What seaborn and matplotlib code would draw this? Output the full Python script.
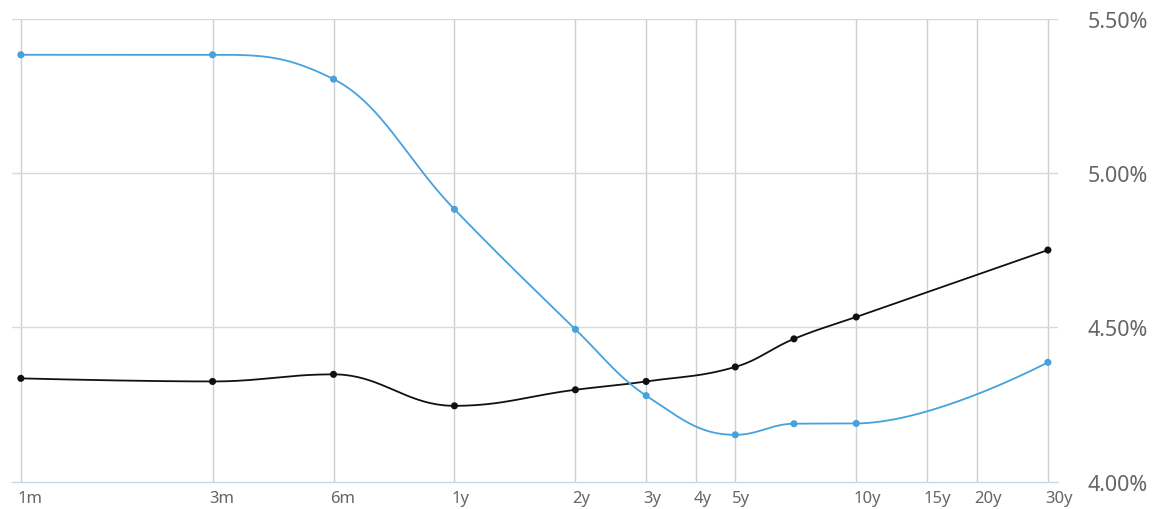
import numpy as np
import pandas as pd
import matplotlib
matplotlib.use("Agg")
import matplotlib.pyplot as plt
import seaborn as sns

# Maturities in years (1m, 3m, 6m, 1y, 2y, 3y, 5y, 7y, 10y, 30y)
maturity = [1 / 12, 0.25, 0.5, 1, 2, 3, 5, 7, 10, 30]
yield_blue = [5.384, 5.384, 5.305, 4.883, 4.494, 4.279, 4.152, 4.188, 4.189, 4.387]
yield_black = [4.335, 4.325, 4.348, 4.246, 4.298, 4.325, 4.372, 4.463, 4.534, 4.751]

tick_pos = [1 / 12, 0.25, 0.5, 1, 2, 3, 4, 5, 10, 15, 20, 30]
tick_labels = ["1m", "3m", "6m", "1y", "2y", "3y", "4y", "5y", "10y", "15y", "20y", "30y"]
y_ticks = [4.0, 4.5, 5.0, 5.5]
y_tick_labels = ["4.00%", "4.50%", "5.00%", "5.50%"]

BLUE = "#45a2dd"
BLACK = "#111111"
TEXT = "#666666"


def spline_curve(xs, ys, n=40):
    """Smooth spline through the points (bezier segments, smoothing 1.5),
    computed in log10(x) / y space so it follows the log axis."""
    u = np.log10(np.asarray(xs, float))
    v = np.asarray(ys, float)
    s = 1.5
    d = s + 1
    right = [None] * len(u)
    left = [None] * len(u)
    for i in range(1, len(u) - 1):
        px, py = u[i], v[i]
        lx, ly = u[i - 1], v[i - 1]
        nx, ny = u[i + 1], v[i + 1]
        lcx = (s * px + lx) / d
        lcy = (s * py + ly) / d
        rcx = (s * px + nx) / d
        rcy = (s * py + ny) / d
        corr = 0.0
        if rcx != lcx:
            corr = (rcy - lcy) * (rcx - px) / (rcx - lcx) + py - rcy
        lcy += corr
        rcy += corr
        if lcy > ly and lcy > py:
            lcy = max(ly, py)
            rcy = 2 * py - lcy
        elif lcy < ly and lcy < py:
            lcy = min(ly, py)
            rcy = 2 * py - lcy
        if rcy > ny and rcy > py:
            rcy = max(ny, py)
            lcy = 2 * py - rcy
        elif rcy < ny and rcy < py:
            rcy = min(ny, py)
            lcy = 2 * py - rcy
        left[i] = (lcx, lcy)
        right[i] = (rcx, rcy)
    cu, cv = [u[0]], [v[0]]
    t = np.linspace(0, 1, n)[1:]
    for i in range(1, len(u)):
        p0 = np.array([u[i - 1], v[i - 1]])
        p1 = np.array(right[i - 1]) if right[i - 1] is not None else p0
        p3 = np.array([u[i], v[i]])
        p2 = np.array(left[i]) if left[i] is not None else p3
        b = ((1 - t) ** 3)[:, None] * p0 + (3 * (1 - t) ** 2 * t)[:, None] * p1 \
            + (3 * (1 - t) * t ** 2)[:, None] * p2 + (t ** 3)[:, None] * p3
        cu.extend(b[:, 0])
        cv.extend(b[:, 1])
    return 10 ** np.array(cu), np.array(cv)


sns.set_theme(style="white")
plt.rcParams["font.family"] = ["Noto Sans", "DejaVu Sans"]

fig = plt.figure(figsize=(11.56, 5.10), dpi=100)
ax = fig.add_axes([12 / 1156, 27.3 / 510, 1046 / 1156, 462.7 / 510])

ax.set_xscale("log")
ax.set_xlim(0.0792, 31.79)
ax.set_ylim(4.0, 5.5)

# grid
for x in tick_pos:
    ax.axvline(x, color="#cfcfcf", lw=1.0, zorder=0)
for y in y_ticks[1:]:
    ax.axhline(y, color="#d9d9d9", lw=1.0, zorder=0)

df = pd.DataFrame({"maturity": maturity * 2,
                   "yield": yield_black + yield_blue,
                   "series": ["black"] * len(maturity) + ["blue"] * len(maturity)})

for vals, col, z in [(yield_black, BLACK, 3), (yield_blue, BLUE, 4)]:
    cx, cy = spline_curve(maturity, vals)
    ax.plot(cx, cy, color=col, lw=1.3, zorder=z, solid_capstyle="round")

sns.scatterplot(data=df, x="maturity", y="yield", hue="series",
                palette={"black": BLACK, "blue": BLUE}, s=26, linewidth=0,
                legend=False, ax=ax, zorder=5)

for side in ["top", "left", "right"]:
    ax.spines[side].set_visible(False)
ax.spines["bottom"].set_color("#ccd6eb")
ax.spines["bottom"].set_linewidth(1.0)

ax.set_xticks(tick_pos)
ax.set_xticklabels(tick_labels, ha="left")
ax.xaxis.set_minor_locator(matplotlib.ticker.NullLocator())
ax.tick_params(axis="x", length=0, pad=6, labelsize=12, labelcolor=TEXT)
offset = matplotlib.transforms.ScaledTranslation(-3 / 100, 0, fig.dpi_scale_trans)
for lab in ax.get_xticklabels():
    lab.set_transform(lab.get_transform() + offset)

ax.yaxis.tick_right()
ax.set_yticks(y_ticks)
ax.set_yticklabels(y_tick_labels)
ax.tick_params(axis="y", length=0, pad=21.5, labelsize=15.5, labelcolor=TEXT)
ax.set_xlabel("")
ax.set_ylabel("")

fig.savefig("out.png", dpi=100, facecolor="white")
